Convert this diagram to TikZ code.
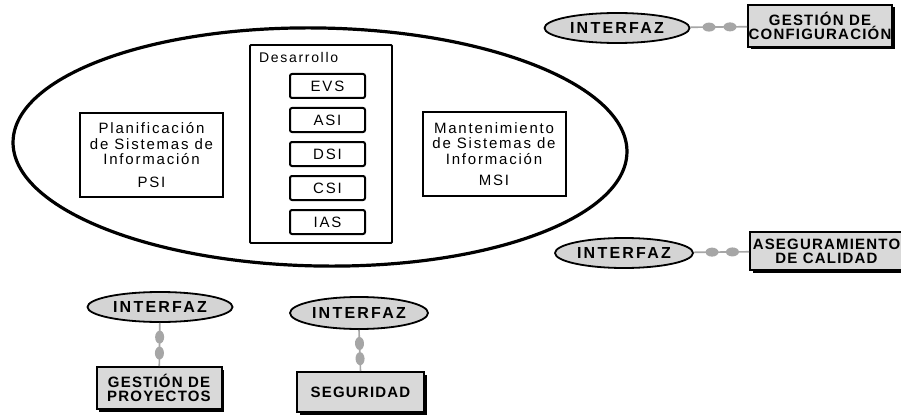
\documentclass[tikz,border=0pt]{standalone}
\usepackage{fontspec}
\setmainfont{Liberation Sans}
\newfontfamily\capsfont[LetterSpace=8]{Liberation Sans}
\newfontfamily\ifacefont[LetterSpace=14]{Liberation Sans}
\newfontfamily\bodyfont[LetterSpace=12]{Liberation Sans}
\usetikzlibrary{shapes.geometric,decorations.markings,shadows}

\definecolor{ifgray}{HTML}{D4D4D4}
\definecolor{boxgray}{HTML}{D9D9D9}
\definecolor{linkgray}{HTML}{A6A6A6}

\tikzset{
  iface/.style={ellipse, draw, line width=1.8pt, fill=ifgray, inner sep=0pt,
    minimum width=140pt, minimum height=30pt,
    font=\ifacefont\bfseries\fontsize{16}{16}\selectfont},
  extbox/.style={rectangle, draw, line width=2pt, fill=boxgray, inner sep=0pt,
    align=center, drop shadow={shadow xshift=2.5pt, shadow yshift=-2.5pt, fill=black, opacity=1},
    font=\capsfont\bfseries\fontsize{15}{14}\selectfont},
  phasebox/.style={rectangle, draw, line width=2pt, rounded corners=2pt, fill=white,
    minimum width=75pt, minimum height=24pt, inner sep=0pt,
    font=\bodyfont\fontsize{15}{15}\selectfont},
  procbox/.style={rectangle, draw, line width=2pt, fill=white, inner sep=0pt,
    minimum width=143pt, minimum height=83pt, align=center,
    font=\bodyfont\fontsize{15}{15.5}\selectfont},
  link/.style={draw=linkgray, line width=1.6pt, postaction={decorate},
    decoration={markings,
      mark=at position 0.33 with {\fill[linkgray] (0,0) ellipse (6.5pt and 4.5pt);},
      mark=at position 0.70 with {\fill[linkgray] (0,0) ellipse (6.5pt and 4.5pt);}}}
}

\begin{document}
\begin{tikzpicture}[x=1pt,y=-1pt]
  \clip (0,0) rectangle (901,417);
  \fill[white] (0,0) rectangle (901,417);

  % main life-cycle ellipse
  \draw[line width=3.2pt, rotate around={-1:(320,147)}] (320,147) ellipse (307pt and 119pt);

  % process boxes inside the ellipse
  \node[procbox] (psi) at (151.5,155) {Planificación\\de Sistemas de\\Información\\[7pt]PSI};
  \node[procbox] (msi) at (494,154) {Mantenimiento\\de Sistemas de\\Información\\[6pt]MSI};

  % development block with its phases
  \node[rectangle, draw, line width=1.8pt, fill=white, minimum width=142pt, minimum height=198pt,
        rounded corners=1pt] (dev) at (321,144) {};
  \node[anchor=base west, inner sep=0pt, font=\bodyfont\fontsize{14}{15}\selectfont] (devlbl) at (259,63) {Desarrollo};
  \node[phasebox] (evs) at (327.5,86) {EVS};
  \node[phasebox] (asi) at (327.5,120) {ASI};
  \node[phasebox] (dsi) at (327.5,154) {DSI};
  \node[phasebox] (csi) at (327.5,188) {CSI};
  \node[phasebox] (ias) at (327.5,222) {IAS};

  % interfaces and their external processes
  \node[iface, minimum width=145pt] (if1) at (617,28) {INTERFAZ};
  \node[extbox, minimum width=144pt, minimum height=42pt] (gc) at (820,26) {GESTIÓN DE\\CONFIGURACIÓN};
  \draw[link] (if1) -- (gc);

  \node[iface, minimum width=138pt] (if2) at (624,253) {INTERFAZ};
  \node[extbox, minimum width=153pt, minimum height=38pt] (ac) at (826.5,251) {ASEGURAMIENTO\\DE CALIDAD};
  \draw[link] (if2) -- (ac);

  \node[iface, minimum width=145pt] (if3) at (160,307) {INTERFAZ};
  \node[extbox, minimum width=125pt, minimum height=42pt] (gp) at (159,388) {GESTIÓN DE\\PROYECTOS};
  \draw[link] (if3) -- (gp);

  \node[iface, minimum width=138pt, minimum height=32pt] (if4) at (359,313) {INTERFAZ};
  \node[extbox, minimum width=127pt, minimum height=40pt] (seg) at (360.5,392) {SEGURIDAD};
  \draw[link] (if4.south) -- (seg.north);
\end{tikzpicture}
\end{document}
